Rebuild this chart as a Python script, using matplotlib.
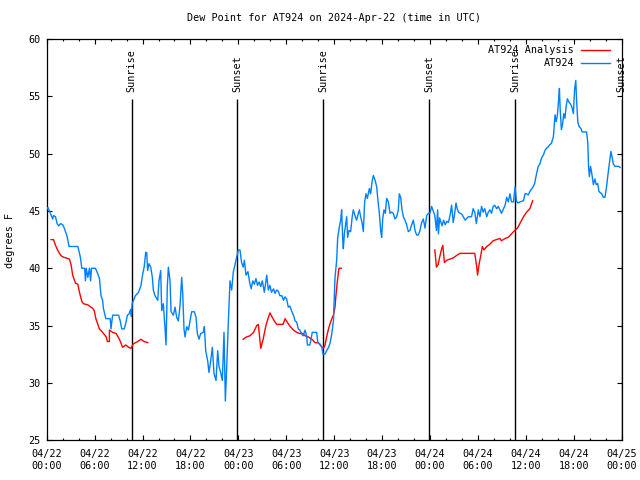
import numpy as np
import matplotlib
matplotlib.use("Agg")
import matplotlib.pyplot as plt
from matplotlib.ticker import MultipleLocator, FixedLocator

# hours since 2024-04-22 00:00 UTC
obs_hours = [0.1, 0.15, 0.4, 0.75, 0.85, 1.1, 1.3, 1.5, 1.75, 2.0, 2.2, 2.5, 2.6, 2.8, 3.9, 4.2,
             4.4, 4.75, 4.85, 4.95, 5.15, 5.35, 5.5, 5.6, 6.1, 6.4, 6.6, 6.8, 7.0, 7.1, 7.4, 7.95,
             8.05, 8.25, 9.0, 9.2, 9.4, 9.7, 9.9, 10.1, 10.3, 10.5, 10.6, 10.7, 11.1, 11.5, 11.8,
             12.0, 12.2, 12.4, 12.52, 12.64, 12.81, 13.02, 13.23, 13.35, 13.56, 13.9, 14.06, 14.27,
             14.4, 14.6, 14.8, 14.94, 15.1, 15.23, 15.44, 15.57, 15.86, 16.07, 16.28, 16.48, 16.69,
             16.9, 17.03, 17.19, 17.32, 17.53, 17.74, 17.95, 18.15, 18.49, 18.7, 18.86, 19.07,
             19.28, 19.61, 19.74, 19.91, 20.16, 20.32, 20.53, 20.74, 20.95, 21.2, 21.41, 21.58,
             21.78, 21.99, 22.2, 22.37, 22.54, 22.75, 22.95, 23.16, 23.37, 23.58, 23.79, 24.0,
             24.2, 24.4, 24.6, 24.75, 24.95, 25.2, 25.4, 25.6, 25.8, 26.0, 26.2, 26.4, 26.6, 26.8,
             27.0, 27.25, 27.55, 27.75, 27.95, 28.15, 28.4, 28.6, 28.8, 29.0, 29.2, 29.45, 29.65,
             29.85, 30.05, 30.25, 30.45, 30.65, 30.9, 31.1, 31.3, 31.5, 31.7, 31.9, 32.1, 32.35,
             32.55, 32.65, 32.95, 33.1, 33.25, 33.8, 33.95, 34.2, 34.45, 34.6, 34.85, 35.05, 35.3,
             35.5, 35.7, 35.9, 36.0, 36.1, 36.31, 36.43, 36.64, 36.81, 36.93, 37.06, 37.14, 37.27,
             37.39, 37.56, 37.68, 37.85, 38.06, 38.27, 38.39, 38.6, 38.81, 39.02, 39.15, 39.31,
             39.48, 39.65, 39.81, 39.98, 40.15, 40.4, 40.56, 40.73, 40.9, 41.11, 41.32, 41.44,
             41.65, 41.82, 41.94, 42.07, 42.23, 42.4, 42.57, 42.78, 42.99, 43.2, 43.4, 43.61,
             43.82, 44.03, 44.15, 44.32, 44.49, 44.66, 44.86, 45.07, 45.28, 45.49, 45.7, 45.91,
             46.12, 46.32, 46.53, 46.74, 46.95, 47.16, 47.37, 47.58, 47.79, 48.0, 48.2, 48.4,
             48.6, 48.8, 48.95, 49.05, 49.2, 49.5, 49.7, 49.9, 50.1, 50.3, 50.5, 50.7, 50.9,
             51.05, 51.25, 51.4, 51.55, 52.0, 52.4, 52.8, 53.2, 53.4, 53.6, 53.8, 54.05, 54.25,
             54.45, 54.65, 54.85, 55.1, 55.3, 55.5, 55.7, 55.9, 56.1, 56.35, 56.55, 56.75, 56.95,
             57.2, 57.4, 57.6, 57.8, 58.0, 58.2, 58.45, 58.65, 58.8, 59.0, 59.3, 59.7, 59.9, 60.1,
             60.3, 60.5, 60.7, 60.9, 61.1, 61.35, 61.55, 61.75, 61.95, 62.2, 62.4, 62.6, 62.8,
             63.0, 63.2, 63.45, 63.65, 63.8, 63.95, 64.1, 64.2, 64.3, 64.45, 64.6, 64.75, 64.9,
             65.05, 65.2, 65.4, 65.55, 65.75, 65.95, 66.1, 66.25, 66.35, 66.5, 66.65, 66.9, 67.05,
             67.4, 67.6, 67.75, 67.85, 67.95, 68.1, 68.25, 68.45, 68.65, 68.8, 69.0, 69.15, 69.5,
             69.7, 69.9, 70.1, 70.3, 70.5, 70.65, 70.8, 70.95, 71.15, 71.6, 71.8]
obs_dewpt = [45.2, 45.3, 44.9, 44.3, 44.6, 44.5, 43.9, 43.7, 43.9, 43.8, 43.5, 42.9, 42.6, 41.9, 41.9, 41.0,
             40.0, 40.0, 38.9, 40.0, 39.2, 40.0, 38.9, 40.0, 40.0, 39.5, 39.1, 37.6, 37.2, 36.5, 35.6, 35.6,
             34.7, 35.9, 35.9, 35.4, 34.7, 34.7, 35.2, 35.9, 36.0, 36.4, 35.8, 36.9, 37.6, 37.9, 38.5,
             39.4, 40.1, 41.4, 41.36, 39.8, 40.4, 40.1, 39.2, 38.1, 37.6, 37.2, 38.9, 39.8,
             36.3, 36.9, 34.9, 33.3, 38.4, 40.1, 38.9, 36.2, 35.9, 36.6, 35.7, 35.4, 36.7,
             39.2, 37.8, 34.7, 34.0, 34.9, 34.6, 35.4, 36.2, 36.2, 35.7, 34.3, 33.8,
             34.3, 34.4, 34.9, 32.8, 31.9, 30.9, 31.9, 33.1, 30.8, 30.2, 32.8, 31.4,
             30.9, 30.2, 34.4, 28.4, 31.4, 35.4, 38.9, 38.1, 39.7, 40.3, 41.0, 41.6,
             41.6, 40.5, 40.1, 40.7, 39.4, 39.7, 38.8, 38.2, 38.9, 38.6, 39.1, 38.5, 38.8, 38.4,
             38.9, 37.9, 39.4, 38.1, 38.5, 37.9, 38.2, 37.8, 38.1, 38.0, 37.6, 37.6, 37.2,
             37.5, 37.3, 36.6, 36.7, 36.3, 35.9, 35.4, 35.3, 34.7, 34.6, 34.3, 34.1, 34.6,
             34.1, 33.3, 33.3, 33.8, 34.4, 34.4, 33.5, 33.4, 33.1, 32.5, 32.5, 32.8, 33.1,
             33.5, 34.3, 35.4, 37.2, 39.2, 40.7, 42.6, 43.6, 44.2, 45.1, 42.6, 41.7, 43.0,
             43.6, 44.5, 42.7, 43.3, 43.2, 44.6, 45.1, 44.6, 44.2, 44.8, 45.1, 44.5,
             44.0, 43.2, 45.8, 46.5, 46.1, 46.96, 46.5, 47.5, 48.1, 47.7, 47.1, 46.2,
             44.8, 43.3, 42.7, 44.3, 45.1, 44.8, 46.1, 45.8, 44.8, 44.9, 44.8, 44.3,
             44.5, 45.1, 46.5, 46.2, 45.1, 44.5, 44.2, 43.8, 43.2, 43.3, 43.8, 44.2,
             43.3, 42.9, 42.9, 43.3, 44.0, 44.3, 43.5, 44.6, 44.8, 44.8, 45.4, 45.0,
             44.6, 43.3, 45.1, 43.0, 44.4, 43.7, 44.2, 43.8, 44.1, 44.0, 44.6, 45.5, 44.0,
             44.6, 45.7, 45.2, 44.9, 44.7, 44.2, 44.5, 44.5, 45.2, 44.9, 43.9, 45.1, 44.5,
             45.4, 44.9, 45.2, 44.5, 44.9, 45.1, 44.8, 45.4, 45.5, 45.2, 45.4, 45.1, 44.8,
             45.2, 45.5, 46.2, 45.8, 46.5, 45.8, 45.8, 47.1, 45.9, 45.7, 45.8, 45.9, 46.5, 46.5,
             46.4, 46.7, 46.9, 47.1, 47.4, 48.3, 48.9, 49.1, 49.6, 49.9, 50.3, 50.5, 50.6,
             50.8, 50.9, 51.5, 53.4, 52.8, 53.4, 54.7, 55.7, 53.8, 52.1, 52.6, 53.5, 53.1,
             54.2, 54.8, 54.5, 54.4, 54.1, 53.5, 55.6, 56.4, 54.7, 52.8, 52.4, 52.2, 51.9,
             51.9, 51.9, 51.0, 48.9, 48.0, 48.9, 48.3, 47.3, 47.8, 47.3, 47.4, 46.7, 46.5,
             46.2, 46.2, 47.1, 48.3, 49.4, 50.2, 49.7, 49.1, 48.9, 48.9, 48.8]

# analysis (NaN marks gaps)
ana_hours = [0.55, 0.85, 1.1, 1.35, 1.6, 1.8, 2.0, 2.4, 2.85, 3.05, 3.25, 3.6, 3.9, 4.1, 4.4, 4.6,
             5.15, 5.75, 5.95, 6.15, 6.6, 7.0, 7.45, 7.6, 7.85, 7.85, 8.25, 8.7, 9.1, 9.5, 9.9,
             10.25, 10.55, 10.85, 11.4, 11.8, 12.2, 12.65, 18.0,
             24.6, 25.0, 25.45, 25.9, 26.3, 26.5, 26.8, 27.1, 27.45, 27.75, 27.95, 28.25, 28.5,
             28.8, 29.6, 29.85, 30.2, 30.5, 30.9, 31.3, 31.7, 32.1, 32.35, 32.75, 33.2, 33.6,
             34.0, 34.35, 34.65, 34.85, 35.05, 35.25, 35.45, 35.7, 35.9, 36.1, 36.2, 36.4, 36.55,
             36.6, 36.9, 42.0,
             48.6, 48.8, 49.0, 49.25, 49.45, 49.6, 49.8, 50.1, 50.5, 50.9, 51.3, 51.75, 52.4,
             53.2, 53.6, 53.85, 53.95, 54.15, 54.35, 54.55, 54.75, 55.1, 55.5, 55.9, 56.3, 56.75,
             56.95, 57.4, 57.8, 58.2, 58.6, 58.95, 59.25, 59.7, 60.1, 60.5, 60.8, 60.85]
ana_dewpt = [42.5, 42.5, 42.0, 41.6, 41.3, 41.1, 41.0, 40.9, 40.8, 40.3, 39.4, 38.7, 38.6, 37.9, 37.1, 36.9,
             36.8, 36.5, 36.3, 35.6, 34.7, 34.4, 34.0, 33.6, 33.6, 34.6, 34.4, 34.3, 33.8, 33.1, 33.3,
             33.1, 33.0, 33.4, 33.6, 33.8, 33.6, 33.5, np.nan,
             33.8, 34.0, 34.1, 34.4, 35.0, 35.1, 33.0, 33.8, 35.0, 35.7, 36.1, 35.7, 35.4,
             35.1, 35.1, 35.6, 35.2, 34.9, 34.6, 34.4, 34.3, 34.3, 34.1, 34.0, 33.8, 33.5,
             33.5, 33.2, 33.0, 33.3, 34.0, 34.6, 35.1, 35.6, 35.9, 36.6, 37.5, 38.9, 39.8,
             40.0, 40.0, np.nan,
             41.6, 40.1, 40.3, 41.1, 41.7, 42.0, 40.5, 40.7, 40.8, 40.9, 41.1, 41.3, 41.3,
             41.3, 41.3, 40.1, 39.4, 40.4, 41.1, 41.9, 41.6, 41.9, 42.1, 42.4, 42.5, 42.6,
             42.4, 42.6, 42.7, 43.0, 43.3, 43.5, 43.9, 44.5, 44.9, 45.2, 45.8, 45.9]

sun_hours = [10.64, 23.87, 34.64, 47.91, 58.68, 72.0]
sun_names = ["Sunrise", "Sunset", "Sunrise", "Sunset", "Sunrise", "Sunset"]

tick_hours = [0, 6, 12, 18, 24, 30, 36, 42, 48, 54, 60, 66, 72]
tick_labels = ["04/22\n00:00", "04/22\n06:00", "04/22\n12:00", "04/22\n18:00",
               "04/23\n00:00", "04/23\n06:00", "04/23\n12:00", "04/23\n18:00",
               "04/24\n00:00", "04/24\n06:00", "04/24\n12:00", "04/24\n18:00",
               "04/25\n00:00"]

plt.rcParams['font.family'] = ['DejaVu Sans Mono']
plt.rcParams['font.size'] = 7.3

fig = plt.figure(figsize=(6.4, 4.8), dpi=100)
ax = fig.add_axes([0.073, 0.0833, 0.8984, 0.835])

# sunrise / sunset markers
ax.vlines(sun_hours, 25, 54.8, color='black', lw=1.0, zorder=1)
for h, name in zip(sun_hours, sun_names):
    ax.text(h, 55.35, name, rotation=90, ha='center', va='bottom', clip_on=False)

ax.plot(ana_hours, ana_dewpt, color='#ff0000', lw=1.0, zorder=2)
ax.plot(obs_hours, obs_dewpt, color='#0080ff', lw=1.0, zorder=3)

ax.set_xlim(0, 72)
ax.set_ylim(25, 60)
ax.xaxis.set_major_locator(FixedLocator(tick_hours))
ax.set_xticklabels(tick_labels)
ax.xaxis.set_minor_locator(MultipleLocator(2))
ax.yaxis.set_major_locator(MultipleLocator(5))
ax.tick_params(which='both', direction='in', top=True, right=True, width=0.8)
ax.tick_params(which='major', length=3.5)
ax.tick_params(which='minor', length=1.6)
ax.tick_params(axis='x', pad=6.5)
ax.tick_params(axis='y', pad=4.5)
for s in ax.spines.values():
    s.set_linewidth(0.9)

ax.set_title("Dew Point for AT924 on 2024-Apr-22 (time in UTC)", fontsize=7.3, pad=13)
fig.text(0.016, 0.5, "degrees F", rotation=90, ha='center', va='center')

# legend drawn gnuplot-style (text right aligned, sample on the right)
for yy, lab, col in [(0.973, "AT924 Analysis", '#ff0000'), (0.941, "AT924", '#0080ff')]:
    ax.text(0.917, yy, lab, transform=ax.transAxes, ha='right', va='center')
    ax.plot([0.929, 0.980], [yy, yy], transform=ax.transAxes, color=col, lw=1.0)

fig.savefig("out.png", dpi=100)
